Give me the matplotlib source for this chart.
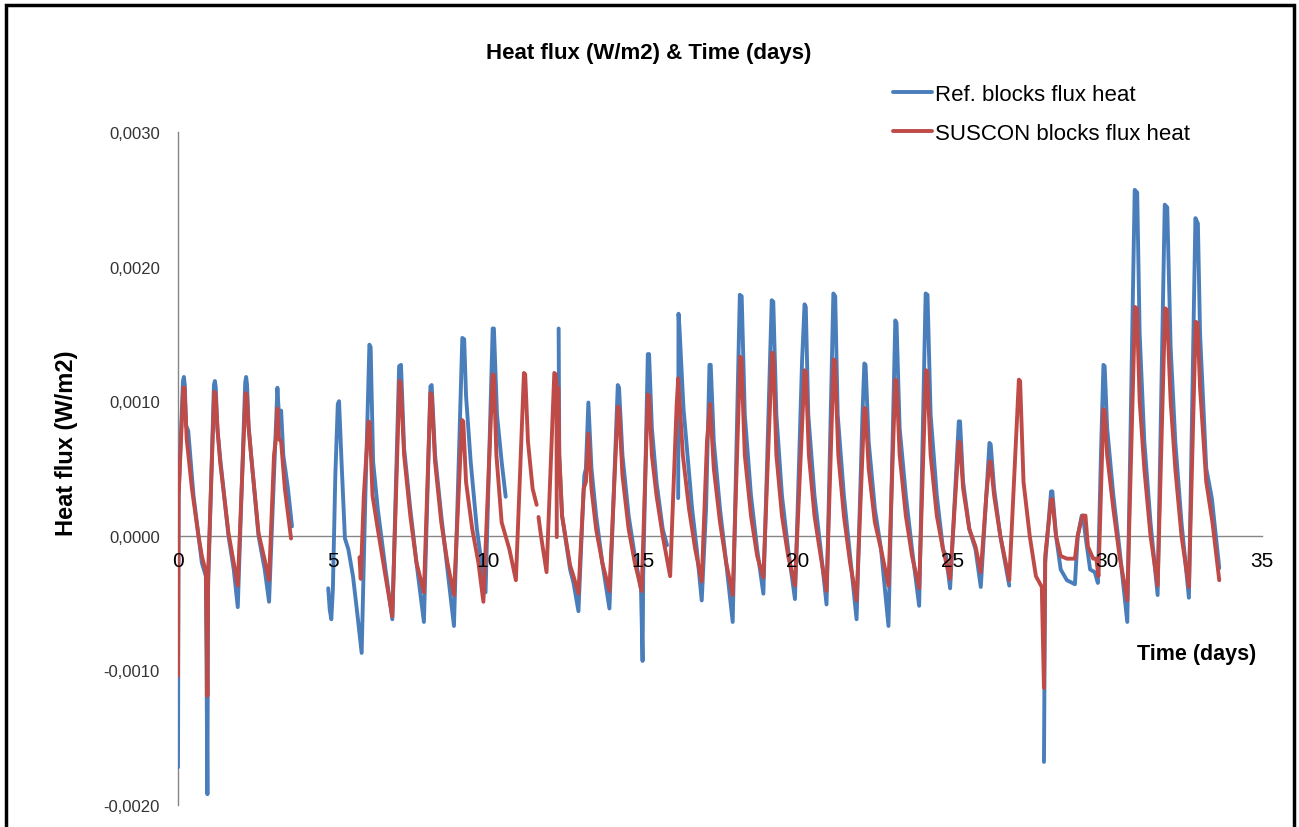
import numpy as np
import matplotlib
matplotlib.use("Agg")
import matplotlib.pyplot as plt
from matplotlib.ticker import FuncFormatter
from matplotlib.patches import Rectangle

# ---- data (time in days, heat flux in 1e-3 W/m2; None = gap in the record) ----
ref_t = [0.0, 0.02, 0.16, 0.19, 0.22, 0.26, 0.33, 0.5, 0.66, 0.77, 0.9, 0.95, 0.97, 1.16, 1.19, 1.22, 1.27, 1.36, 1.63, 1.8, 1.93,
         2.17, 2.2, 2.23, 2.28, 2.36, 2.6, 2.8, 2.94, 3.21, 3.27, 3.33, 3.4, 3.55, 3.68, None,
         4.85, 4.9, 4.95, 5.0, 5.08, 5.16, 5.2, 5.28, 5.39, 5.5, 5.65, 5.8, 5.93, 6.05, 6.18, 6.22, 6.3, 6.45, 6.7, 6.92,
         7.14, 7.2, 7.3, 7.5, 7.7, 7.94, 8.15, 8.19, 8.3, 8.5, 8.7, 8.91, 9.18, 9.24, 9.3, 9.45, 9.65, 9.93,
         10.16, 10.2, 10.3, 10.45, 10.58, None,
         12.29, 12.31, 12.4, 12.66, 12.77, 12.93, 13.05, 13.12, 13.17, 13.25, 13.35, 13.5, 13.7, 13.93,
         14.2, 14.24, 14.35, 14.55, 14.75, 14.95, 15.0, 15.02, 15.17, 15.21, 15.3, 15.45, 15.65, 15.79, None,
         16.15, 16.16, 16.19, 16.32, 16.6, 16.75, 16.91, 17.05, 17.16, 17.2, 17.3, 17.5, 17.7, 17.91,
         18.14, 18.2, 18.3, 18.5, 18.7, 18.9, 19.17, 19.22, 19.32, 19.5, 19.7, 19.92, 20.1, 20.15, 20.23, 20.27, 20.35, 20.55, 20.75, 20.94,
         21.16, 21.22, 21.3, 21.5, 21.7, 21.91, 22.1, 22.16, 22.2, 22.3, 22.5, 22.7, 22.94, 23.16, 23.2, 23.3, 23.5, 23.7, 23.93,
         24.14, 24.2, 24.3, 24.5, 24.7, 24.8, 24.93, 25.21, 25.25, 25.35, 25.55, 25.75, 25.92, 26.1, 26.2, 26.24, 26.35, 26.55, 26.84, None,
         27.96, 28.0, 28.19, 28.23, 28.35, 28.5, 28.7, 28.96, 29.05, 29.18, 29.22, 29.3, 29.45, 29.6, 29.7, 29.8, 29.88, 29.92,
         30.0, 30.2, 30.4, 30.65, 30.89, 30.97, 31.05, 31.2, 31.4, 31.63, 31.86, 31.94, 32.05, 32.2, 32.4, 32.64,
         32.85, 32.93, 33.0, 33.2, 33.38, 33.62]
ref_v = [-1.72, 0.3, 1.15, 1.18, 1.12, 0.82, 0.78, 0.30, 0.0, -0.2, -0.30, -1.92, -0.4, 1.12, 1.15, 1.1, 0.80, 0.58, 0.0, -0.25, -0.53,
         1.14, 1.18, 1.12, 0.82, 0.60, 0.0, -0.25, -0.49, 1.10, 0.85, 0.93, 0.6, 0.35, 0.07, None,
         -0.39, -0.55, -0.62, -0.4, 0.45, 0.98, 1.0, 0.55, -0.02, -0.1, -0.3, -0.6, -0.87, 0.3, 1.42, 1.4, 0.55, 0.2, -0.25, -0.62,
         1.26, 1.27, 0.65, 0.2, -0.2, -0.64, 1.11, 1.12, 0.6, 0.15, -0.25, -0.67, 1.47, 1.46, 1.04, 0.55, 0.05, -0.42,
         1.54, 1.54, 0.9, 0.55, 0.29, None,
         1.54, 0.6, 0.15, -0.25, -0.35, -0.56, 0.1, 0.45, 0.5, 0.99, 0.5, 0.15, -0.2, -0.54,
         1.12, 1.1, 0.6, 0.15, -0.15, -0.4, -0.93, -0.3, 1.35, 1.35, 0.8, 0.4, 0.05, -0.07, None,
         0.28, 1.65, 1.55, 0.95, 0.2, -0.1, -0.48, 0.2, 1.27, 1.27, 0.7, 0.2, -0.2, -0.64,
         1.79, 1.78, 0.9, 0.3, -0.1, -0.43, 1.75, 1.74, 0.9, 0.3, -0.1, -0.47, 0.9, 1.3, 1.72, 1.7, 0.9, 0.3, -0.1, -0.51,
         1.80, 1.78, 0.9, 0.3, -0.15, -0.62, 0.9, 1.28, 1.27, 0.7, 0.2, -0.1, -0.67, 1.60, 1.58, 0.8, 0.3, -0.1, -0.52,
         1.80, 1.79, 0.9, 0.3, -0.1, -0.15, -0.39, 0.85, 0.85, 0.4, 0.05, -0.1, -0.38, 0.3, 0.69, 0.68, 0.35, 0.0, -0.37, None,
         -1.68, -0.2, 0.33, 0.33, 0.0, -0.25, -0.33, -0.36, 0.0, 0.15, 0.15, 0.0, -0.25, -0.27, -0.35, 0.6, 1.27, 1.26,
         0.8, 0.3, -0.1, -0.64, 2.57, 2.55, 1.5, 0.7, 0.1, -0.44, 2.46, 2.44, 1.4, 0.7, 0.1, -0.46,
         2.36, 2.32, 1.5, 0.5, 0.28, -0.24]

sus_t = [0.0, 0.02, 0.17, 0.21, 0.28, 0.45, 0.66, 0.77, 0.9, 0.95, 0.97, 1.17, 1.21, 1.28, 1.36, 1.63, 1.8, 1.93,
         2.18, 2.22, 2.28, 2.36, 2.6, 2.8, 2.94, 3.1, 3.16, 3.21, 3.26, 3.33, 3.45, 3.65, None,
         5.86, 5.9, 6.0, 6.15, 6.19, 6.28, 6.45, 6.7, 6.92, 7.15, 7.19, 7.3, 7.5, 7.7, 7.94, 8.15, 8.19, 8.3, 8.5, 8.7, 8.91,
         9.17, 9.21, 9.3, 9.5, 9.7, 9.86, 10.16, 10.2, 10.28, 10.45, 10.7, 10.91, 11.17, 11.21, 11.3, 11.45, 11.58, None,
         11.64, 11.72, 11.9, 12.15, 12.19, 12.22, 12.23, None,
         12.28, 12.31, 12.4, 12.66, 12.77, 12.93, 13.1, 13.17, 13.25, 13.35, 13.5, 13.7, 13.93,
         14.2, 14.24, 14.35, 14.55, 14.75, 14.97, 15.17, 15.21, 15.3, 15.45, 15.65, 15.89, 16.1, 16.15,
         16.3, 16.5, 16.7, 16.91, 17.08, 17.18, 17.3, 17.5, 17.7, 17.91, 18.15, 18.19, 18.3, 18.5, 18.7, 18.9,
         19.18, 19.22, 19.32, 19.5, 19.7, 19.92, 20.23, 20.27, 20.37, 20.55, 20.75, 20.94, 21.17, 21.21, 21.32, 21.5, 21.7, 21.91,
         22.16, 22.2, 22.3, 22.5, 22.7, 22.94, 23.16, 23.2, 23.3, 23.5, 23.7, 23.93, 24.15, 24.19, 24.3, 24.5, 24.7, 24.93,
         25.21, 25.25, 25.35, 25.55, 25.75, 25.92, 26.1, 26.2, 26.24, 26.35, 26.55, 26.84, 27.15, 27.19, 27.3, 27.5, 27.7, 27.89,
         27.96, 28.0, 28.19, 28.23, 28.35, 28.5, 28.7, 28.96, 29.05, 29.2, 29.3, 29.38, 29.55, 29.65, 29.72, 29.88, 29.92,
         30.0, 30.2, 30.4, 30.65, 30.9, 30.96, 31.05, 31.2, 31.4, 31.63, 31.87, 31.93, 32.05, 32.2, 32.4, 32.64,
         32.86, 32.92, 33.0, 33.2, 33.4, 33.62]
sus_v = [-1.04, 0.3, 1.1, 1.1, 0.72, 0.35, 0.0, -0.15, -0.27, -1.19, -0.3, 1.07, 1.06, 0.78, 0.55, 0.02, -0.2, -0.37,
         1.06, 1.05, 0.8, 0.6, 0.02, -0.18, -0.33, 0.6, 0.72, 0.945, 0.72, 0.7, 0.35, -0.02, None,
         -0.16, -0.32, 0.3, 0.85, 0.84, 0.3, 0.05, -0.3, -0.60, 1.15, 1.14, 0.6, 0.15, -0.2, -0.42, 1.06, 1.05, 0.55, 0.1, -0.2, -0.44,
         0.86, 0.85, 0.4, 0.05, -0.2, -0.49, 1.2, 1.19, 0.6, 0.1, -0.1, -0.33, 1.21, 1.2, 0.7, 0.35, 0.23, None,
         0.14, 0.0, -0.27, 1.21, 1.2, 1.15, -0.01, None,
         1.10, 0.6, 0.15, -0.22, -0.3, -0.43, 0.35, 0.40, 0.76, 0.35, 0.05, -0.2, -0.41,
         0.96, 0.95, 0.45, 0.05, -0.2, -0.41, 1.05, 1.04, 0.6, 0.3, 0.0, -0.30, 0.97, 1.17,
         0.6, 0.2, -0.1, -0.34, 0.7, 0.98, 0.5, 0.1, -0.2, -0.44, 1.33, 1.32, 0.6, 0.15, -0.15, -0.31,
         1.36, 1.35, 0.6, 0.15, -0.15, -0.37, 1.23, 1.22, 0.6, 0.15, -0.15, -0.41, 1.31, 1.3, 0.6, 0.15, -0.2, -0.48,
         0.95, 0.94, 0.5, 0.1, -0.1, -0.37, 1.16, 1.15, 0.6, 0.15, -0.15, -0.39, 1.23, 1.22, 0.6, 0.15, -0.1, -0.32,
         0.70, 0.69, 0.35, 0.05, -0.08, -0.27, 0.3, 0.55, 0.55, 0.3, 0.0, -0.33, 1.16, 1.15, 0.4, 0.0, -0.3, -0.38,
         -1.13, -0.15, 0.27, 0.27, 0.0, -0.15, -0.17, -0.17, 0.0, 0.15, 0.15, -0.08, -0.17, -0.17, -0.3, 0.94, 0.93,
         0.6, 0.2, -0.15, -0.48, 1.70, 1.69, 1.0, 0.5, 0.0, -0.37, 1.69, 1.68, 1.0, 0.5, 0.0, -0.38,
         1.59, 1.58, 1.1, 0.4, 0.1, -0.33]

series_names = ["Ref. blocks flux heat", "SUSCON blocks flux heat"]
series_colors = ["#4A7EBB", "#BE4B48"]
x_ticks = [0, 5, 10, 15, 20, 25, 30, 35]
y_ticks = [-0.002, -0.001, 0.0, 0.001, 0.002, 0.003]


def to_arr(vals, scale=1.0):
    return np.array([np.nan if v is None else v * scale for v in vals], dtype=float)


W, H = 1299, 828
fig = plt.figure(figsize=(W / 100, H / 100), dpi=100)
fig.patch.set_facecolor("white")

ax = fig.add_axes([178 / W, 1 - 806 / H, (1262 - 178) / W, (806 - 133) / H])
ax.plot(to_arr(ref_t), to_arr(ref_v, 1e-3), color=series_colors[0], lw=2.8,
        label=series_names[0], solid_joinstyle="round", solid_capstyle="round")
ax.plot(to_arr(sus_t), to_arr(sus_v, 1e-3), color=series_colors[1], lw=2.8,
        label=series_names[1], solid_joinstyle="round", solid_capstyle="round")

ax.set_xlim(0, 35)
ax.set_ylim(-0.002, 0.003)
ax.set_xticks(x_ticks)
ax.set_yticks(y_ticks)
ax.yaxis.set_major_formatter(FuncFormatter(lambda v, p: f"{v:.4f}".replace(".", ",")))
for s in ["top", "right"]:
    ax.spines[s].set_visible(False)
ax.spines["bottom"].set_position(("data", 0))
for s in ["bottom", "left"]:
    ax.spines[s].set_color("#868686")
    ax.spines[s].set_linewidth(1.0)
    ax.spines[s].set_zorder(1.5)
ax.set_axisbelow(False)
ax.tick_params(axis="x", length=0, pad=11, labelsize=15, labelcolor="black")
ax.tick_params(axis="y", length=0, pad=13, labelsize=12, labelcolor="#333333")
for lab in ax.get_xticklabels() + ax.get_yticklabels():
    lab.set_fontfamily("Liberation Sans")

fig.text(649 / W, 1 - 53 / H, "Heat flux (W/m2) & Time (days)", ha="center", va="center",
         fontsize=16, fontweight="bold", family="Liberation Sans")
fig.text(67 / W, 1 - 443 / H, "Heat flux (W/m2)", ha="center", va="center", rotation=90,
         fontsize=17, fontweight="bold", family="Liberation Sans")
fig.text(1197 / W, 1 - 655 / H, "Time (days)", ha="center", va="center",
         fontsize=15.5, fontweight="bold", family="Liberation Sans")

leg = ax.legend(loc="upper left", bbox_to_anchor=(893 / W, 1 - 85 / H), bbox_transform=fig.transFigure,
                frameon=False, handlelength=1.76, handletextpad=0.15, labelspacing=0.82,
                prop={"family": "Liberation Sans", "size": 16}, borderaxespad=0, borderpad=0)

fig.patches.append(Rectangle((6 / W, -0.02), (1294 - 6) / W, 1.02 - 6 / H, transform=fig.transFigure,
                             fill=False, edgecolor="black", linewidth=2.5))

fig.savefig("out.png", dpi=100, facecolor="white")
